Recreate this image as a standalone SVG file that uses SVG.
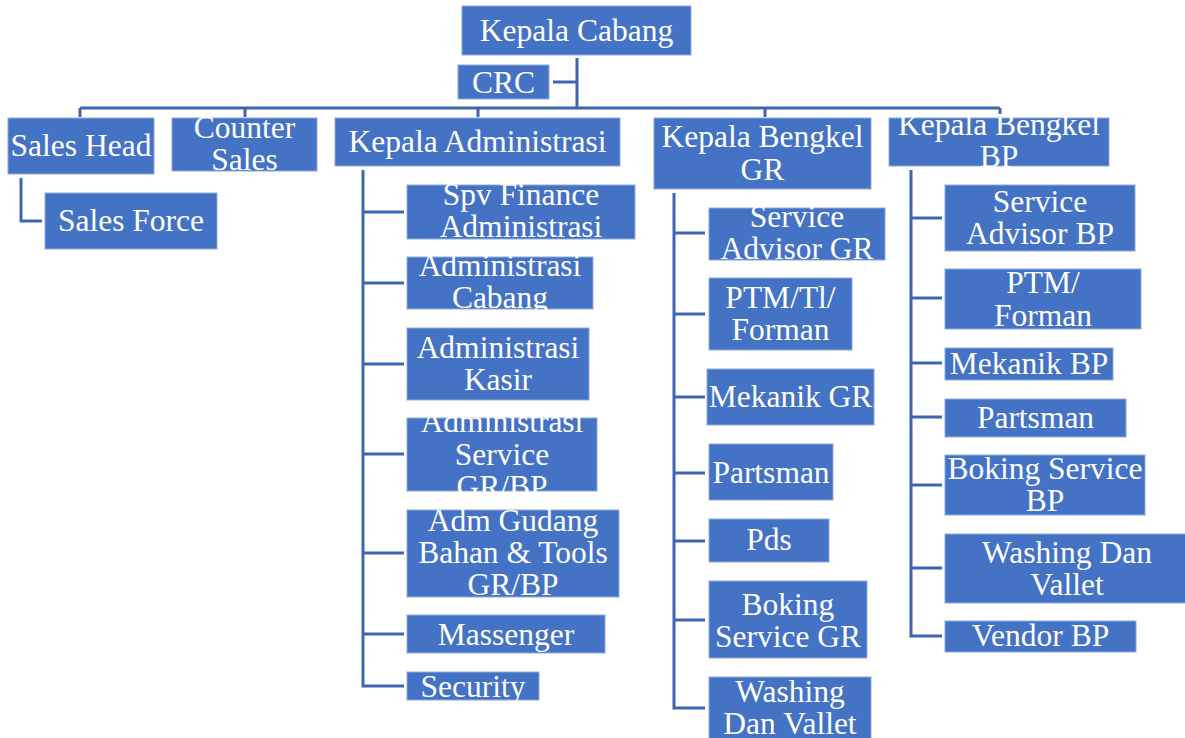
<svg xmlns="http://www.w3.org/2000/svg" width="1185" height="738" viewBox="0 0 1185 738">
<style>
.b{fill:#4472C4;stroke:#8EA9DB;stroke-width:1}
.t{fill:#fff;font-family:"Liberation Serif","Times New Roman",serif;font-size:31.5px;text-anchor:middle}
.c{fill:none;stroke:#3F65AE;stroke-width:3}
</style>
<rect width="1185" height="738" fill="#fff"/>
<g id="connectors" class="c">
<path d="M577 58V108M553 82H577M80 108H1000M80 108V117M245 108V117M478 108V117M765 108V117M1000 108V117"/>
<path d="M21 178V221H42"/>
<path d="M363 170V686H404M363 212H404M363 283H404M363 364H404M363 454H404M363 553H404M363 634H404"/>
<path d="M674 193V708H705M674 233H705M674 314H705M674 397H705M674 473H705M674 541H705M674 620H705"/>
<path d="M911 170V636H942M911 218H942M911 298H942M911 363H942M911 417H942M911 485H942M911 568H942"/>
</g>
<g id="kepala-cabang"><rect class="b" x="462" y="6" width="229" height="49"/><text class="t" x="576.5" y="41">Kepala Cabang</text></g>
<g id="crc"><rect class="b" x="458" y="65" width="91" height="34"/><text class="t" x="503.5" y="93">CRC</text></g>
<g id="sales-head"><rect class="b" x="8" y="118" width="146" height="56"/><text class="t" x="81" y="156">Sales Head</text></g>
<g id="sales-force"><rect class="b" x="45" y="193" width="172" height="56"/><text class="t" x="131" y="231">Sales Force</text></g>
<g id="counter-sales"><rect class="b" x="172" y="118" width="145" height="53"/><text class="t" x="244.5" y="138">Counter</text><text class="t" x="244.5" y="170">Sales</text></g>
<g id="kepala-administrasi"><rect class="b" x="335" y="118" width="285" height="48"/><text class="t" x="477.5" y="152">Kepala Administrasi</text></g>
<g id="kepala-bengkel-gr"><rect class="b" x="654" y="118" width="217" height="71"/><text class="t" x="762.5" y="147">Kepala Bengkel</text><text class="t" x="762.5" y="180">GR</text></g>
<g id="kepala-bengkel-bp"><rect class="b" x="889" y="118" width="220" height="48"/><text class="t" x="999" y="135">Kepala Bengkel</text><text class="t" x="999" y="167">BP</text></g>

<g id="spv-finance"><rect class="b" x="407" y="185" width="228" height="54"/><text class="t" x="521" y="205">Spv Finance</text><text class="t" x="521" y="237">Administrasi</text></g>
<g id="adm-cabang"><rect class="b" x="407" y="257" width="186" height="52"/><text class="t" x="500" y="276">Administrasi</text><text class="t" x="500" y="308">Cabang</text></g>
<g id="adm-kasir"><rect class="b" x="407" y="328" width="182" height="72"/><text class="t" x="498" y="358">Administrasi</text><text class="t" x="498" y="390">Kasir</text></g>
<g id="adm-service"><rect class="b" x="407" y="418" width="190" height="73"/><text class="t" x="502" y="432">Administrasi</text><text class="t" x="502" y="465">Service</text><text class="t" x="502" y="497">GR/BP</text></g>
<g id="adm-gudang"><rect class="b" x="407" y="510" width="212" height="87"/><text class="t" x="513" y="531">Adm Gudang</text><text class="t" x="513" y="563">Bahan &amp; Tools</text><text class="t" x="513" y="595">GR/BP</text></g>
<g id="massenger"><rect class="b" x="407" y="615" width="198" height="38"/><text class="t" x="506" y="645">Massenger</text></g>
<g id="security"><rect class="b" x="407" y="672" width="132" height="28"/><text class="t" x="473" y="697">Security</text></g>

<g id="sa-gr"><rect class="b" x="709" y="208" width="176" height="52"/><text class="t" x="797" y="227">Service</text><text class="t" x="797" y="259">Advisor GR</text></g>
<g id="ptm-gr"><rect class="b" x="709" y="278" width="143" height="72"/><text class="t" x="780.5" y="308">PTM/Tl/</text><text class="t" x="780.5" y="340">Forman</text></g>
<g id="mekanik-gr"><rect class="b" x="707" y="369" width="167" height="56"/><text class="t" x="790.5" y="407">Mekanik GR</text></g>
<g id="partsman-gr"><rect class="b" x="709" y="444" width="124" height="56"/><text class="t" x="771" y="483">Partsman</text></g>
<g id="pds"><rect class="b" x="709" y="519" width="120" height="43"/><text class="t" x="769" y="550">Pds</text></g>
<g id="boking-gr"><rect class="b" x="709" y="581" width="158" height="77"/><text class="t" x="788" y="615">Boking</text><text class="t" x="788" y="647">Service GR</text></g>
<g id="washing-gr"><rect class="b" x="709" y="677" width="162" height="63"/><text class="t" x="790" y="702">Washing</text><text class="t" x="790" y="734">Dan Vallet</text></g>

<g id="sa-bp"><rect class="b" x="945" y="185" width="190" height="66"/><text class="t" x="1040" y="212">Service</text><text class="t" x="1040" y="244">Advisor BP</text></g>
<g id="ptm-bp"><rect class="b" x="945" y="269" width="196" height="60"/><text class="t" x="1043" y="293">PTM/</text><text class="t" x="1043" y="326">Forman</text></g>
<g id="mekanik-bp"><rect class="b" x="945" y="348" width="168" height="32"/><text class="t" x="1029" y="374">Mekanik BP</text></g>
<g id="partsman-bp"><rect class="b" x="945" y="399" width="181" height="38"/><text class="t" x="1035.5" y="428">Partsman</text></g>
<g id="boking-bp"><rect class="b" x="945" y="455" width="200" height="60"/><text class="t" x="1045" y="479">Boking Service</text><text class="t" x="1045" y="511">BP</text></g>
<g id="washing-bp"><rect class="b" x="945" y="534" width="242" height="69"/><text class="t" x="1067" y="563">Washing Dan</text><text class="t" x="1067" y="595">Vallet</text></g>
<g id="vendor-bp"><rect class="b" x="945" y="621" width="191" height="31"/><text class="t" x="1040.5" y="646">Vendor BP</text></g>
</svg>
